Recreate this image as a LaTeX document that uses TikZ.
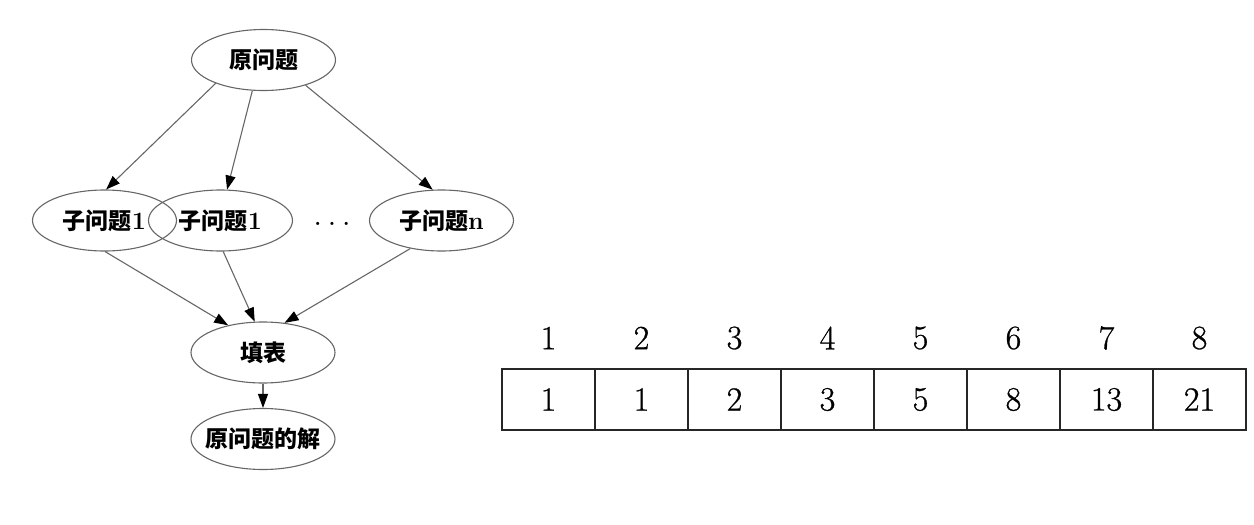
\documentclass[tikz,border=0pt]{standalone}
\usepackage{fontspec}
\newfontfamily\cjk{Noto Sans CJK SC}
\newfontfamily\numfont{Latin Modern Roman}[FakeBold=0.8]
\usetikzlibrary{shapes.geometric,arrows.meta}
\begin{document}
\begin{tikzpicture}[x=1pt,y=-1pt,
  el/.style={ellipse,draw=black!60,line width=1.1pt,minimum width=144pt,minimum height=61pt,
    inner xsep=-20pt,inner ysep=0pt,
    font=\fontsize{23}{26}\selectfont\cjk\bfseries},
  arr/.style={draw=black!60,line width=1.1pt,-{Triangle[length=14pt,width=10pt,color=black]}},
  cell/.style={draw=black!85,line width=1.6pt,minimum width=93pt,minimum height=61pt,inner sep=0pt,
    font=\fontsize{34}{36}\selectfont\numfont},
  idx/.style={font=\fontsize{34}{36}\selectfont\numfont,inner sep=0pt}]
\useasboundingbox (0,0) rectangle (1254,525);
% graph
\node[el] (root) at (263.5,60) {原问题};
\node[el] (sa) at (104.5,220.5) {子问题{\rmfamily\fontsize{25}{26}\selectfont 1}};
\node[el] (sb) at (220.5,220.5) {子问题{\rmfamily\fontsize{25}{26}\selectfont 1}};
\node[font=\fontsize{22}{24}\selectfont\bfseries,inner sep=0pt] (dots) at (332,224) {.\,\,.\,\,.};
\node[el] (sn) at (441.5,220.5) {子问题{\rmfamily\fontsize{25}{26}\selectfont n}};
\node[el] (fill) at (263,352.5) {填表};
\node[el] (sol) at (263,439) {原问题的解};
\draw[arr] (root.206) -- (sa.87);
\draw[arr] (root.250) -- (sb.78);
\draw[arr] (root.329) -- (sn.106);
\draw[arr] (sa.271) -- (fill.142);
\draw[arr] (sb.275) -- (fill.105);
\draw[arr] (sn.222) -- (fill.54);
\draw[arr] (fill) -- (sol);
% table
\foreach \v [count=\i] in {1,1,2,3,5,8,13,21}{
  \node[cell] (c\i) at ({502+93*(\i-0.5)},399.5) {\v};
  \node[idx] (h\i) at ({502+93*(\i-0.5)},338) {\i};
}
\end{tikzpicture}
\end{document}
